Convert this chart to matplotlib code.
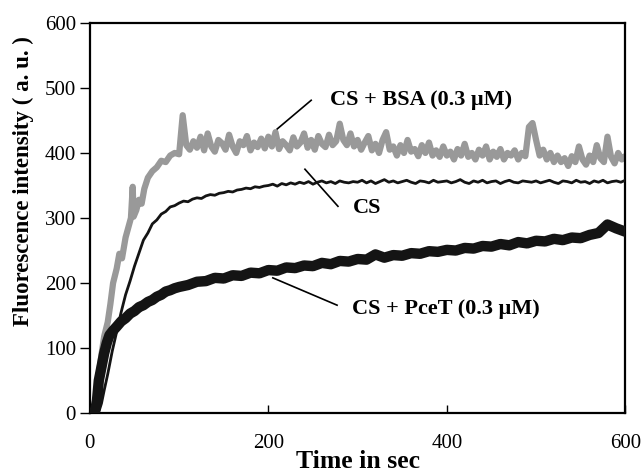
import matplotlib
matplotlib.use("Agg")
import matplotlib.pyplot as plt

# CS + BSA (0.3 uM), grey trace -- rise, then plateau sampled every 4 s
bsa_rise_t = [0, 3, 5, 8, 10, 13, 16, 20, 23, 26, 30, 33, 36, 40, 43, 46, 48, 49, 52,
              55, 58, 61, 65, 70, 75, 80, 85, 90, 95]
bsa_rise_y = [0, 0, 8, 30, 60, 90, 118, 140, 168, 200, 222, 245, 238, 270, 285, 300,
              348, 302, 312, 328, 322, 345, 362, 372, 378, 388, 386, 396, 400]
bsa_plateau_t = list(range(100, 601, 4))
bsa_plateau_y = [398, 458, 412, 405, 418, 408, 425, 404, 430, 410, 402, 420, 415, 405,
                 428, 410, 400, 418, 412, 426, 404, 416, 409, 422, 407,
                 425, 410, 432, 406, 418, 412, 404, 424, 410, 416, 430, 408, 420, 405,
                 426, 414, 409, 428, 412, 418, 445, 420, 412, 430, 410,
                 420, 405, 416, 426, 404, 414, 400, 420, 432, 405, 410, 396, 412, 400,
                 420, 402, 406, 395, 412, 400, 416, 396, 404, 394, 410,
                 396, 402, 390, 406, 396, 414, 394, 400, 390, 405, 396, 410, 390, 402,
                 394, 406, 390, 400, 396, 404, 390, 400, 395, 440, 446,
                 420, 396, 405, 390, 400, 386, 396, 386, 392, 380, 395, 386, 410, 390,
                 382, 396, 386, 412, 392, 386, 425, 394, 384, 400, 390, 395]

# CS alone, thin black trace -- rise, then plateau sampled every 5 s
cs_rise_t = [0, 8, 10, 13, 16, 20, 25, 30, 35, 40, 45, 50, 55, 60, 65, 70, 75, 80, 85,
             90, 95]
cs_rise_y = [0, 0, 2, 15, 35, 60, 95, 125, 155, 182, 203, 226, 246, 266, 277, 291, 297,
             306, 310, 317, 319]
cs_plateau_t = list(range(100, 601, 5))
cs_plateau_y = [323, 326, 325, 329, 331, 330, 334, 336, 335, 338, 339, 341, 340, 343,
                344, 346, 345, 348, 347, 349,
                350, 352, 349, 353, 351, 354, 352, 355, 353, 356, 352, 355, 357, 354,
                356, 353, 357, 355, 354, 356,
                355, 358, 354, 357, 353, 356, 359, 355, 357, 354, 356, 358, 355, 353,
                357, 356, 354, 358, 355, 356,
                357, 354, 356, 359, 355, 353, 357, 355, 358, 354, 356, 357, 353, 356,
                358, 355, 354, 357, 356, 355,
                357, 354, 356, 358, 355, 353, 357, 356, 354, 358, 355, 356, 353, 357,
                355, 358, 354, 356, 357, 355, 358]

# CS + PceT (0.3 uM), thick black trace -- rise, then slow drift every 10 s
pcet_rise_t = [0, 4, 6, 8, 10, 13, 16, 19, 22, 26, 30, 35, 40, 45, 50, 55, 60, 65, 70,
               75, 80, 85, 90, 95]
pcet_rise_y = [0, 0, 5, 20, 50, 71, 92, 108, 120, 127, 133, 141, 146, 153, 157, 163,
               166, 171, 174, 179, 182, 187, 189, 192]
pcet_plateau_t = list(range(100, 601, 10))
pcet_plateau_y = [194, 197, 202, 203, 208, 207, 212, 211, 216, 215,
                  220, 219, 224, 223, 227, 226, 231, 229, 234, 233,
                  237, 236, 244, 239, 243, 242, 246, 245, 249, 248,
                  251, 250, 254, 253, 257, 256, 260, 258, 263, 261,
                  265, 264, 268, 266, 270, 269, 274, 277, 290, 284, 279]

x_ticks = [0, 200, 400, 600]
y_ticks = [0, 100, 200, 300, 400, 500, 600]

plt.rcParams["font.family"] = ["Liberation Serif", "DejaVu Serif"]

fig = plt.figure(figsize=(6.42, 4.76), dpi=100)
ax = fig.add_axes([0.140, 0.132, 0.834, 0.820])

ax.plot(bsa_rise_t + bsa_plateau_t, bsa_rise_y + bsa_plateau_y, color="#999999",
        lw=4.5, solid_joinstyle="round", zorder=2)
ax.plot(pcet_rise_t + pcet_plateau_t, pcet_rise_y + pcet_plateau_y, color="#141414",
        lw=7.5, solid_joinstyle="round", solid_capstyle="round", zorder=3)
ax.plot(cs_rise_t + cs_plateau_t, cs_rise_y + cs_plateau_y, color="#141414",
        lw=2.0, zorder=4)

ax.set_xlim(0, 600)
ax.set_ylim(0, 600)
ax.set_xticks(x_ticks)
ax.set_yticks(y_ticks)
ax.tick_params(axis="x", direction="in", length=6, width=1, pad=15, labelsize=15)
ax.tick_params(axis="y", direction="out", length=7, width=1, pad=3, labelsize=15)
for s in ax.spines.values():
    s.set_linewidth(1.6)

ax.set_xlabel("Time in sec", fontsize=18.5, fontweight="bold")
ax.xaxis.set_label_coords(0.5, -0.095)
ax.set_ylabel("Fluorescence intensity ( a. u. )", fontsize=16.5, fontweight="bold")
ax.yaxis.set_label_coords(-0.105, 0.595)

lbl = dict(fontsize=16, fontweight="bold", va="center", ha="left")
ax.text(269, 481, "CS + BSA (0.3 \u03bcM)", **lbl)
ax.plot([210, 248], [437, 481], color="black", lw=1.2)
ax.text(295, 315, "CS", **lbl)
ax.plot([241, 278], [375, 318], color="black", lw=1.2)
ax.text(294, 160, "CS + PceT (0.3 \u03bcM)", **lbl)
ax.plot([205, 277], [208, 166], color="black", lw=1.2)

fig.savefig("out.png", dpi=100)
